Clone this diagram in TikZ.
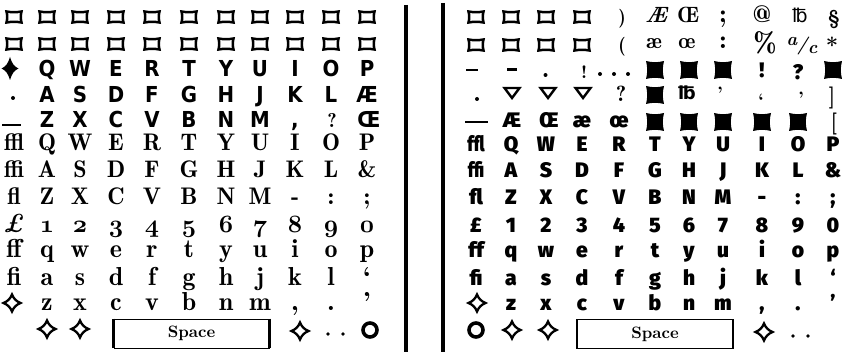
\documentclass[tikz,border=0pt]{standalone}
\usepackage{fontspec}
\newfontfamily\condsans{DejaVu Sans Condensed Bold}
\IfFontExistsTF{Fira Sans Black}
  {\newfontfamily\heavysans{Fira Sans Black}}
  {\IfFontExistsTF{Lato Black}
    {\newfontfamily\heavysans{Lato Black}}
    {\newfontfamily\heavysans{DejaVu Sans Bold}}}
\newfontfamily\symsans{DejaVu Sans}
\newfontfamily\oldserif{lmromandemi10}[Extension=.otf,UprightFont=*-regular,ItalicFont=*-oblique]
\newfontfamily\oldital{lmroman10-bolditalic.otf}
\newfontfamily\oldbold{lmroman10-bold.otf}

\newcommand\osf[1]{{\boldmath$\mathnormal{#1}$}}
\def\colL{{14,47,80,116,152,189,226,260,295,331,367}}
\def\colR{{476,511,546,582,619,655,689,723,762,798,833}}
% one row of keys: columns, baseline, style, name, first column, glyphs
\newcommand\keyrow[6]{\foreach \g [count=\k from #5] in {#6}
  \node[#3] (#4\k) at ({#1[\k-1]},#2) {\g};}

\tikzset{
  every node/.style={inner sep=0pt,anchor=base},
  cond/.style={font=\condsans\fontsize{22}{22}\selectfont},
  serif/.style={font=\oldserif\fontsize{24}{24}\selectfont},
  lower/.style={font=\oldserif\fontsize{26}{26}\selectfont},
  heavy/.style={font=\heavysans\fontsize{21}{21}\selectfont},
  sym/.style={font=\oldserif\fontsize{#1}{#1}\selectfont},
  bar/.style={line width=4pt},
  spacekey/.style={draw,line width=0.7pt,anchor=center,minimum width=155pt,minimum height=29pt,
    font=\oldbold\fontsize{16.5}{16.5}\selectfont},
  keycap/.pic={\draw[line width=2.5pt,line join=miter]
    (-7.5,-5.5) .. controls (-3,-4.6) and (3,-4.6) .. (7.5,-5.5)
    .. controls (6.6,-2) and (6.6,2) .. (7.5,5.5)
    .. controls (3,4.6) and (-3,4.6) .. (-7.5,5.5)
    .. controls (-6.6,2) and (-6.6,-2) .. cycle;},
  inkblock/.pic={\fill
    (-9,-9) .. controls (-3,-7.4) and (3,-7.4) .. (9,-9)
    .. controls (7.4,-3) and (7.4,3) .. (9,9)
    .. controls (3,7.4) and (-3,7.4) .. (-9,9)
    .. controls (-7.4,3) and (-7.4,-3) .. cycle;},
  star/.pic={\draw[line width=2.3pt,line join=miter]
    (0,-8.5) .. controls (1.8,-4.2) and (4.2,-1.8) .. (8.5,0)
    .. controls (4.2,1.8) and (1.8,4.2) .. (0,8.5)
    .. controls (-1.8,4.2) and (-4.2,1.8) .. (-8.5,0)
    .. controls (-4.2,-1.8) and (-1.8,-4.2) .. cycle;},
  solidstar/.pic={\fill
    (0,-11.5) .. controls (2,-5) and (4,-2) .. (8.5,0)
    .. controls (4,2) and (2,5) .. (0,11.5)
    .. controls (-2,5) and (-4,2) .. (-8.5,0)
    .. controls (-4,-2) and (-2,-5) .. cycle;},
  downtri/.pic={\draw[line width=2.4pt,line join=miter] (-7.5,-5) -- (7.5,-5) -- (0,5) -- cycle;},
  ring/.pic={\draw[line width=3.6pt] (0,0) circle (7);},
}

\begin{document}
\begin{tikzpicture}[x=1pt,y=-1pt]
\useasboundingbox (0,0) rectangle (842,352);
% left keyboard
\foreach \k in {1,...,11} {
  \pic at ({\colL[\k-1]},17) {keycap};
  \pic at ({\colL[\k-1]},44) {keycap};
}
\pic at (10,68.5) {solidstar};
\keyrow{\colL}{77}{cond}{la}{2}{Q,W,E,R,T,Y,U,I,O,P}
\fill (13,98) circle (2);
\keyrow{\colL}{103}{cond}{lb}{2}{A,S,D,F,G,H,J,K,L,Æ}
\draw[line width=2.5pt] (2,125) -- (21,125);
\keyrow{\colL}{128}{cond}{lc}{2}{Z,X,C,V,B,N,M,{,}}
\node[sym=20] (lc10) at (332,128) {?};
\node[cond] (lc11) at (369,128) {Œ};
\keyrow{\colL}{151}{serif}{ld}{1}{ffl,Q,W,E,R,T,Y,U,I,O,P}
\keyrow{\colL}{178}{serif}{le}{1}{ffi,A,S,D,F,G,H,J,K,L,\&}
\keyrow{\colL}{205}{serif}{lf}{1}{fl,Z,X,C,V,B,N,M,-,:,;}
\keyrow{\colL}{233}{lower}{lg}{1}{{\oldital £},\osf1,\osf2,\osf3,\osf4,\osf5,\osf6,\osf7,\osf8,\osf9,\osf0}
\keyrow{\colL}{258}{lower}{lh}{1}{ff,q,w,e,r,t,y,u,i,o,p}
\keyrow{\colL}{285}{lower}{li}{1}{fi,a,s,d,f,g,h,j,k,l,‘}
\pic at (12,303) {star};
\keyrow{\colL}{310}{lower}{lj}{2}{z,x,c,v,b,n,m,{,},.,’}
\pic at (47,329) {star};
\pic at (80,329) {star};
\node[spacekey] (lspace) at (191.5,333.5) {Space};
\draw[line width=2.5pt] (lspace.north west) -- (lspace.south west);
\draw[line width=2.5pt] (lspace.north east) -- (lspace.south east);
\pic at (300,331) {star};
\fill (328,334) circle (1.8) (343,334) circle (1.8);
\pic at (370,330) {ring};
% dividing rules
\draw[bar] (405.5,5) -- (405.5,352);
\draw[bar] (442.5,3) -- (442.5,352);
% right keyboard
\foreach \k in {1,...,4} {
  \pic at ({\colR[\k-1]},17) {keycap};
  \pic at ({\colR[\k-1]},45) {keycap};
}
\node[sym=19] (ra5) at (622,24) {)};
\node[font=\oldital\fontsize{22}{22}\selectfont] (ra6) at (656,23) {Æ};
\node[sym=22] (ra7) at (688,23) {Œ};
\node[sym=26] (ra8) at (723,23) {;};
\node[sym=24] (ra9) at (762,23) {@};
\node[font=\symsans\fontsize{19}{19}\selectfont] (ra10) at (800,23) {℔};
\node[sym=20] (ra11) at (834,25) {§};
\node[sym=19] (rb5) at (622,52) {(};
\node[sym=22] (rb6) at (654,49) {æ};
\node[sym=22] (rb7) at (687,49) {œ};
\node[sym=26] (rb8) at (723,49) {:};
\node[sym=28] (rb9) at (765,53) {\%};
\node[font=\oldital\fontsize{18}{18}\selectfont] (rb10) at (802,51) {\raisebox{5pt}{a}/\raisebox{-3pt}{c}};
\node[font=\rmfamily\bfseries\fontsize{22}{22}\selectfont] (rb11) at (832,54) {*};
\draw[line width=1.8pt] (466,70) -- (478,70);
\fill (507,68) rectangle (517,71.5);
\fill (545.5,75) circle (2);
\node[sym=18] (rc4) at (584,79) {!};
\fill (600,74) circle (2) (614,74) circle (2) (628,74) circle (2);
\foreach \k in {6,7,8,11} \pic at ({\colR[\k-1]},70) {inkblock};
\node[heavy] (rc9) at (762,78) {!};
\node[heavy] (rc10) at (798,80) {?};
\fill (477,99) circle (2);
\foreach \x in {512,548,583} \pic at (\x,93) {downtri};
\node[sym=22] (rd5) at (621,102) {?};
\pic at (655,95) {inkblock};
\node[font=\symsans\bfseries\fontsize{18}{18}\selectfont] (rd7) at (687,100) {℔};
\node[sym=18] (rd8) at (720,100) {’};
\node[sym=18] (rd9) at (761,107) {‘};
\node[sym=18] (rd10) at (801,105) {’};
\node[sym=22] (rd11) at (832,104) {]};
\draw[line width=2pt] (465,122) -- (488,122);
\node[heavy] (re2) at (512,128) {Æ};
\node[heavy] (re3) at (549,128) {Œ};
\node[heavy] (re4) at (582,128) {æ};
\node[heavy] (re5) at (619,128) {œ};
\foreach \k in {6,...,10} \pic at ({\colR[\k-1]},122) {inkblock};
\node[sym=22] (re11) at (834,130) {[};
\keyrow{\colR}{152}{heavy}{rf}{1}{\scalebox{0.8}[1]{ffl},Q,W,E,R,T,Y,U,I,O,P}
\keyrow{\colR}{178}{heavy}{rg}{1}{\scalebox{0.8}[1]{ffi},A,S,D,F,G,H,J,K,L,\&}
\keyrow{\colR}{205}{heavy}{rh}{1}{fl,Z,X,C,V,B,N,M,-,:,;}
\keyrow{\colR}{233}{heavy}{ri}{1}{£,1,2,3,4,5,6,7,8,9,0}
\keyrow{\colR}{258}{heavy}{rj}{1}{ff,q,w,e,r,t,y,u,i,o,p}
\keyrow{\colR}{285}{heavy}{rk}{1}{fi,a,s,d,f,g,h,j,k,l,‘}
\pic at (477,303) {star};
\keyrow{\colR}{310}{heavy}{rl}{2}{z,x,c,v,b,n,m,{,},.,’}
\pic at (476,330) {ring};
\pic at (512,330) {star};
\pic at (548,330) {star};
\node[spacekey] (rspace) at (655,334) {Space};
\draw[line width=2.5pt] (rspace.north west) -- (rspace.south west);
\draw[line width=2.5pt] (rspace.north east) -- (rspace.south east);
\pic at (764,332) {star};
\fill (793,336) circle (1.8) (808,336) circle (1.8);
\end{tikzpicture}
\end{document}
